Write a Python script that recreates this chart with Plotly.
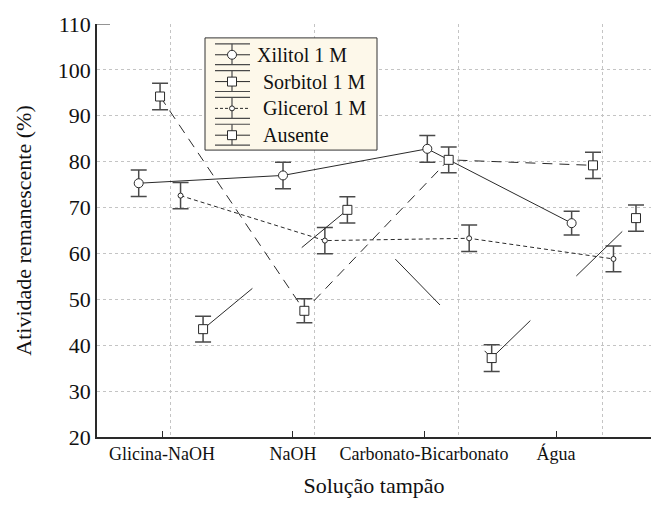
import plotly.graph_objects as go

# Buffers (categories) and remaining activity per additive
categories = ["Glicina-NaOH", "NaOH", "Carbonato-Bicarbonato", "Água"]
cat_index = [0, 1, 2, 3]

xilitol = [75.3, 77.0, 82.8, 66.6]
xilitol_err = [2.9, 2.9, 2.9, 2.6]
sorbitol = [94.2, 47.5, 80.4, 79.2]
sorbitol_err = [2.9, 2.6, 2.8, 2.85]
glicerol = [72.6, 62.8, 63.3, 58.8]
glicerol_err = [2.85, 2.85, 2.9, 2.8]
ausente = [43.5, 69.5, 37.2, 67.7]
ausente_err = [2.8, 2.85, 2.9, 2.85]

series_names = ["Xilitol 1 M", "Sorbitol 1 M", "Glicerol 1 M", "Ausente"]
y_ticks = [20, 30, 40, 50, 60, 70, 80, 90, 100, 110]

# Label positions along the category axis
label_pos = [-0.055, 0.852, 1.760, 2.675]

W, H = 666, 509
L, R, T, B = 97, 15, 21, 72
X_RANGE = [-0.506, 3.333]
Y_RANGE = [20, 110]

INK = "#2a2a2a"
BAR = "#4a4a4a"
FONT = "Liberation Serif"

styles = [
    dict(y=xilitol, e=xilitol_err, off=-0.217, dash="solid", sym="circle", size=9),
    dict(y=sorbitol, e=sorbitol_err, off=-0.069, dash="10px,7px", sym="square", size=9),
    dict(y=glicerol, e=glicerol_err, off=0.073, dash="4px,3px", sym="circle", size=5),
    dict(y=ausente, e=ausente_err, off=0.229, dash="64px,64px", sym="square", size=9),
]

fig = go.Figure()
for name, s in zip(series_names, styles):
    fig.add_trace(go.Scatter(
        x=[c + s["off"] for c in cat_index],
        y=s["y"],
        name=name,
        mode="lines+markers",
        line=dict(color=INK, width=1, dash=s["dash"]),
        marker=dict(symbol=s["sym"], size=s["size"], color="white",
                    line=dict(color=INK, width=1)),
        error_y=dict(type="data", array=s["e"], visible=True,
                     color=BAR, thickness=1.5, width=8),
        showlegend=False,
        cliponaxis=False,
    ))

pw = W - L - R
ph = H - T - B


def px(xp):
    return (xp - L) / pw


def py(yp):
    return (H - B - yp) / ph


shapes = []
annotations = []

# short mark at the top of the value axis
shapes.append(dict(type="line", xref="paper", yref="y", x0=0, x1=px(110),
                   y0=110, y1=110, line=dict(color=INK, width=1)))

# legend box
lx0, ly0, lx1, ly1 = 205, 35, 377, 148
shapes.append(dict(type="rect", xref="paper", yref="paper",
                   x0=px(lx0), x1=px(lx1), y0=py(ly1), y1=py(ly0),
                   fillcolor="#fdf8ea", line=dict(color="#333333", width=1),
                   layer="above"))

entry_y = [52, 79, 106, 133]
text_x = [255, 261, 261, 261]
sx0, sx1, sxc = 215, 250, 232
for name, s, cy, tx in zip(series_names, styles, entry_y, text_x):
    for yy in (cy - 11, cy + 10):
        shapes.append(dict(type="line", xref="paper", yref="paper",
                           x0=px(sx0), x1=px(sx1), y0=py(yy), y1=py(yy),
                           line=dict(color=BAR, width=1.2), layer="above"))
    shapes.append(dict(type="line", xref="paper", yref="paper",
                       x0=px(sxc), x1=px(sxc), y0=py(cy + 10), y1=py(cy - 11),
                       line=dict(color=BAR, width=1.2), layer="above"))
    mid_dash = "3px,2px" if s["size"] == 5 else "solid"
    shapes.append(dict(type="line", xref="paper", yref="paper",
                       x0=px(sx0), x1=px(sx1), y0=py(cy), y1=py(cy),
                       line=dict(color=INK, width=1, dash=mid_dash), layer="above"))
    r = s["size"] / 2
    kind = "circle" if s["sym"] == "circle" else "rect"
    shapes.append(dict(type=kind, xref="paper", yref="paper",
                       x0=px(sxc - r), x1=px(sxc + r), y0=py(cy + r), y1=py(cy - r),
                       fillcolor="white", line=dict(color=INK, width=1), layer="above"))
    annotations.append(dict(xref="paper", yref="paper", x=px(tx), y=py(cy),
                            xanchor="left", yanchor="middle", showarrow=False,
                            text=name, font=dict(family=FONT, size=20, color="#111")))

fig.update_layout(
    width=W, height=H,
    margin=dict(l=L, r=R, t=T, b=B, pad=0),
    paper_bgcolor="white", plot_bgcolor="white",
    font=dict(family=FONT, color="#111"),
    shapes=shapes,
    annotations=annotations,
    xaxis=dict(
        range=X_RANGE, tickmode="array", tickvals=label_pos, ticktext=categories,
        ticks="inside", ticklen=6, tickcolor=INK, tickwidth=1,
        showgrid=False, zeroline=False,
        showline=True, linecolor=INK, linewidth=1.5,
        tickfont=dict(family=FONT, size=18, color="#111"),
        title=dict(text="Solução tampão", font=dict(family=FONT, size=22, color="#111"),
                   standoff=14),
        minor=dict(tickmode="array", tickvals=cat_index, showgrid=True,
                   gridcolor="#c4c4c4", griddash="3px,3px", gridwidth=1, ticks=""),
    ),
    yaxis=dict(
        range=Y_RANGE, tickmode="array", tickvals=y_ticks,
        ticks="", showgrid=True, gridcolor="#c4c4c4", griddash="3px,3px", gridwidth=1,
        zeroline=False, showline=True, linecolor=INK, linewidth=1.5,
        tickfont=dict(family=FONT, size=22, color="#111"),
        title=dict(text="Atividade remanescente (%)",
                   font=dict(family=FONT, size=22, color="#111"), standoff=20),
    ),
)

fig.write_html("out.html")
